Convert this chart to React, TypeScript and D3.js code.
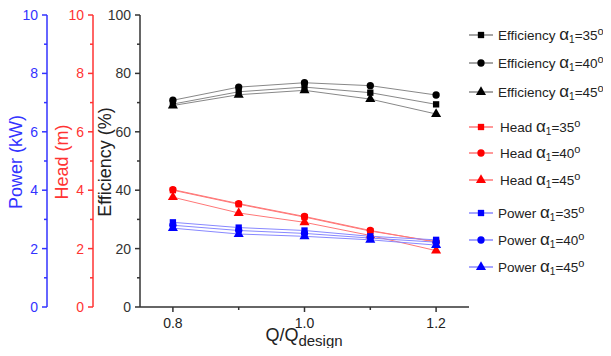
import React, { useEffect, useRef } from 'react';
import * as d3 from 'd3';

// flow ratio Q/Qdesign
const flow = [0.8, 0.9, 1.0, 1.1, 1.2];
const angles = ['35', '40', '45'];

// efficiency (%) for alpha1 = 35, 40, 45
const eff35 = [69.5, 73.7, 75.3, 73.4, 69.4];
const eff40 = [70.8, 75.3, 76.8, 75.8, 72.6];
const eff45 = [69.0, 72.7, 74.2, 71.2, 66.1];

// head (m)
const head35 = [4.0, 3.52, 3.08, 2.6, 2.24];
const head40 = [4.02, 3.54, 3.1, 2.62, 2.22];
const head45 = [3.76, 3.22, 2.9, 2.45, 1.93];

// power (kW)
const power35 = [2.9, 2.72, 2.62, 2.42, 2.3];
const power40 = [2.8, 2.62, 2.52, 2.36, 2.22];
const power45 = [2.7, 2.5, 2.42, 2.3, 2.12];

const xTicks = [0.8, 1.0, 1.2];
const xMinor = [0.9, 1.1];

const FONT = '"Liberation Sans", Arial, sans-serif';

const App = () => {
    const svgRef = useRef<SVGSVGElement>(null);

    useEffect(() => {
        const width = 611;
        const height = 356;
        const svg = d3.select(svgRef.current)
            .attr('width', width)
            .attr('height', height)
            .style('font-family', FONT);

        svg.selectAll('*').remove();

        const top = 15;
        const bottom = 307;

        const x = d3.scaleLinear().domain([0.75, 1.25]).range([140, 469]);
        const yEff = d3.scaleLinear().domain([0, 100]).range([bottom, top]);
        const yHead = d3.scaleLinear().domain([0, 10]).range([bottom, top]);
        const yPower = d3.scaleLinear().domain([0, 10]).range([bottom, top]);

        // vertical axes
        const drawYAxis = (scale, xPos, color, majors, minors) => {
            const g = svg.append('g');
            g.append('line')
                .attr('x1', xPos).attr('x2', xPos)
                .attr('y1', top).attr('y2', bottom)
                .attr('stroke', color).attr('stroke-width', 1.5);
            majors.forEach(v => {
                g.append('line')
                    .attr('x1', xPos - 5).attr('x2', xPos)
                    .attr('y1', scale(v)).attr('y2', scale(v))
                    .attr('stroke', color).attr('stroke-width', 1.5);
                g.append('text')
                    .attr('x', xPos - 9)
                    .attr('y', scale(v) + 5)
                    .attr('text-anchor', 'end')
                    .attr('font-size', 14)
                    .attr('fill', color)
                    .text(v);
            });
            minors.forEach(v => {
                g.append('line')
                    .attr('x1', xPos - 3).attr('x2', xPos)
                    .attr('y1', scale(v)).attr('y2', scale(v))
                    .attr('stroke', color).attr('stroke-width', 1.5);
            });
        };

        drawYAxis(yPower, 47, '#3333ff', [0, 2, 4, 6, 8, 10], [1, 3, 5, 7, 9]);
        drawYAxis(yHead, 93, '#ff3333', [0, 2, 4, 6, 8, 10], [1, 3, 5, 7, 9]);
        drawYAxis(yEff, 140, '#333333', [0, 20, 40, 60, 80, 100], [10, 30, 50, 70, 90]);

        // axis titles
        const yTitle = (xPos, color, label) => {
            svg.append('text')
                .attr('transform', `translate(${xPos}, 162) rotate(-90)`)
                .attr('text-anchor', 'middle')
                .attr('font-size', 18)
                .attr('fill', color)
                .text(label);
        };
        yTitle(22, '#3333ff', 'Power (kW)');
        yTitle(68, '#ff3333', 'Head (m)');
        yTitle(111, '#222222', 'Efficiency (%)');

        // x axis
        const xg = svg.append('g');
        xg.append('line')
            .attr('x1', 140).attr('x2', 469)
            .attr('y1', bottom).attr('y2', bottom)
            .attr('stroke', '#333').attr('stroke-width', 1.5);
        xTicks.forEach(v => {
            xg.append('line')
                .attr('x1', x(v)).attr('x2', x(v))
                .attr('y1', bottom).attr('y2', bottom + 5)
                .attr('stroke', '#333').attr('stroke-width', 1.5);
            xg.append('text')
                .attr('x', x(v)).attr('y', bottom + 21)
                .attr('text-anchor', 'middle')
                .attr('font-size', 14)
                .attr('fill', '#222')
                .text(v.toFixed(1));
        });
        xMinor.forEach(v => {
            xg.append('line')
                .attr('x1', x(v)).attr('x2', x(v))
                .attr('y1', bottom).attr('y2', bottom + 3)
                .attr('stroke', '#333').attr('stroke-width', 1.5);
        });
        const xl = svg.append('text')
            .attr('x', 304).attr('y', 341)
            .attr('text-anchor', 'middle')
            .attr('font-size', 18)
            .attr('fill', '#222');
        xl.append('tspan').text('Q/Q');
        xl.append('tspan').attr('font-size', 15).attr('dy', 5).text('design');

        const symbols = [d3.symbolSquare, d3.symbolCircle, d3.symbolTriangle];
        const sizes = [40, 42, 44];

        const series = [
            { name: 'Efficiency', data: [eff35, eff40, eff45], scale: yEff, line: '#888888', mark: '#000000' },
            { name: 'Head', data: [head35, head40, head45], scale: yHead, line: '#ff7777', mark: '#ff0000' },
            { name: 'Power', data: [power35, power40, power45], scale: yPower, line: '#8888ff', mark: '#0000ff' },
        ];

        const plot = svg.append('g');
        series.forEach(s => {
            s.data.forEach((vals, i) => {
                const pts = flow.map((f, j) => [f, vals[j]]);
                const line = d3.line().x(d => x(d[0])).y(d => s.scale(d[1]));
                plot.append('path')
                    .attr('d', line(pts))
                    .attr('fill', 'none')
                    .attr('stroke', s.line)
                    .attr('stroke-width', 1);
                plot.selectAll(null)
                    .data(pts)
                    .enter()
                    .append('path')
                    .attr('transform', d => `translate(${x(d[0])}, ${s.scale(d[1])})`)
                    .attr('d', d3.symbol().type(symbols[i]).size(sizes[i])())
                    .attr('fill', s.mark);
            });
        });

        // legend
        const legendY = [35, 63, 92, 127, 153, 180, 213, 240, 267];
        const legend = svg.append('g');
        let k = 0;
        series.forEach(s => {
            angles.forEach((a, i) => {
                const ly = legendY[k++];
                legend.append('line')
                    .attr('x1', 469).attr('x2', 493)
                    .attr('y1', ly).attr('y2', ly)
                    .attr('stroke', s.line).attr('stroke-width', 1.5);
                legend.append('path')
                    .attr('transform', `translate(481, ${ly})`)
                    .attr('d', d3.symbol().type(symbols[i]).size(sizes[i])())
                    .attr('fill', s.mark);
                const t = legend.append('text')
                    .attr('x', s.name === 'Head' ? 500 : 498)
                    .attr('y', ly + 5)
                    .attr('font-size', 13.5)
                    .attr('fill', '#222');
                t.append('tspan').text(s.name + ' ');
                t.append('tspan').attr('font-size', 17).text('α');
                t.append('tspan').attr('font-size', 10).attr('dy', 3).text('1');
                t.append('tspan').attr('dy', -3).text('=' + a);
                t.append('tspan').attr('font-size', 11).attr('dy', -5).text('o');
            });
        });
    }, []);

    return <svg ref={svgRef} style={{ display: 'block', margin: -8 }}></svg>;
};

export default App;
